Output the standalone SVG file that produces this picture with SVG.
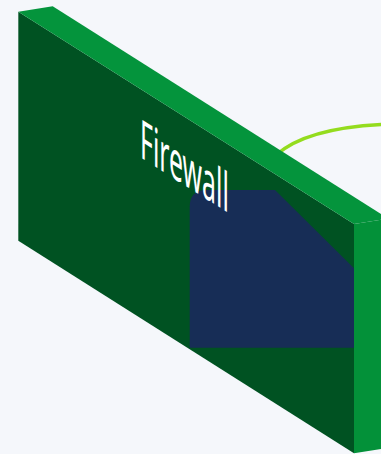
<svg xmlns="http://www.w3.org/2000/svg" width="381" height="454" viewBox="0 0 381 454">
  <style>
    .front { fill: #005222; }
    .top { fill: #04943c; }
    .side { fill: #039139; }
    .link { fill: none; stroke: #94dc1e; stroke-width: 3.5; stroke-linecap: round; }
    .label { font-family: "Noto Sans", "DejaVu Sans", sans-serif; font-size: 54px; fill: #ffffff; }
    .node { fill: #172d56; }
  </style>
  <rect width="381" height="454" fill="#f5f7fb"/>
  <g id="connectors">
    <path class="link" d="M276,155 C295,138 330,126 390,124"/>
  </g>
  <g id="firewall">
    <polygon class="front" points="18.3,11.7 354,224 354,453.3 18.3,240.7"/>
    <g id="server">
      <path class="node" d="M189.7,207 Q189.7,190 206.7,190 L275,190 L354,268.3 L354,347.7 L189.7,347.7 Z"/>
    </g>
    <text class="label" transform="matrix(0.46,0.291,0,1,140,157)">Firewall</text>
    <polygon class="top" points="18.3,11.7 52.7,6.3 388.4,218.6 354,224"/>
    <polygon class="side" points="354,224 388.4,218.6 388.4,447.9 354,453.3"/>
  </g>
</svg>
